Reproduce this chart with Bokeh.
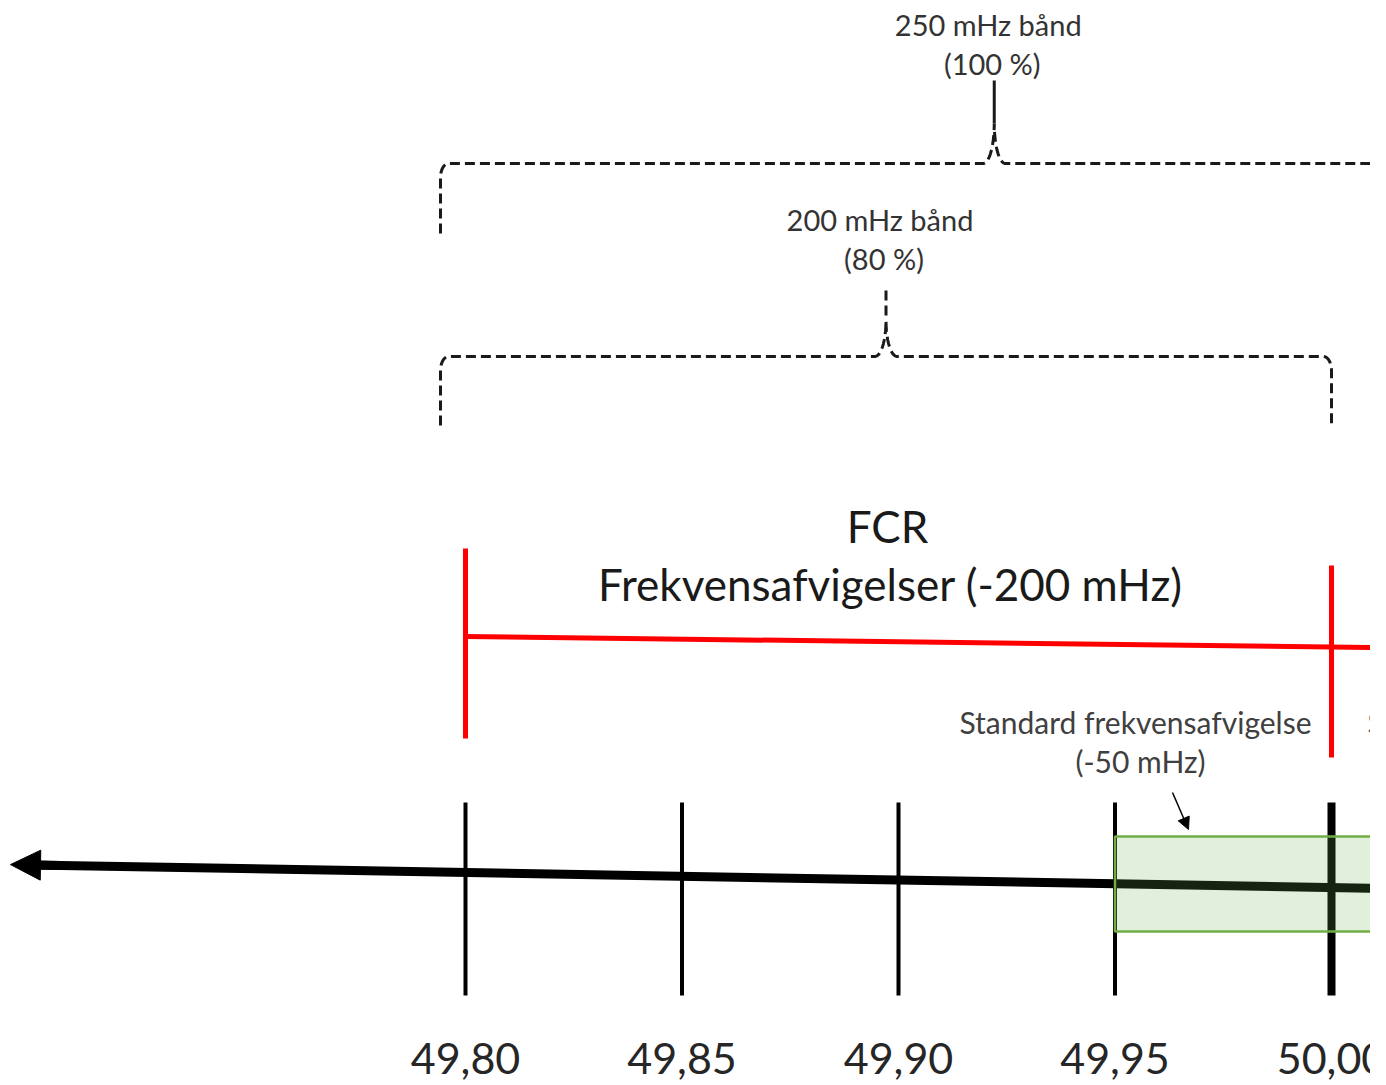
import numpy as np
from bokeh.plotting import figure
from bokeh.models import Range1d, Arrow, NormalHead, ColumnDataSource
from bokeh.core.properties import value
from bokeh.embed import file_html
from bokeh.resources import INLINE

# ---------------- data ----------------
tick_values = [49.80, 49.85, 49.90, 49.95, 50.00]
tick_labels = ["49,80", "49,85", "49,90", "49,95", "50,00"]
nominal_freq = 50.00
fcr_range = [49.80, 50.00]
fcr_title = "FCR"
fcr_label = "Frekvensafvigelser (-200 mHz)"
std_range = [49.95, 50.05]
std_label = ["Standard frekvensafvigelse", "(-50 mHz)"]
band_low = [49.80, 49.80]
band_high = [50.00, 50.05]
band_title = ["200 mHz bånd", "250 mHz bånd"]
band_share = ["(80 %)", "(100 %)"]

# ---------------- layout ----------------
W, H = 1370, 1085
PXHZ = 4330.0          # pixels per Hz
X0PX = 465.0           # pixel of 49.80


def fx(px):
    return 49.80 + (px - X0PX) / PXHZ


def dpx(n):
    return n / PXHZ


FONT = value("Lato")

p = figure(width=W, height=H, output_backend="svg", toolbar_location=None,
           x_range=Range1d(fx(0), fx(W)),
           y_range=Range1d(H, 0),
           x_axis_location=None, y_axis_location=None, min_border=0,
           tools="")
p.grid.visible = False
p.outline_line_color = None
p.background_fill_color = "white"
p.border_fill_color = "white"

# ---------- braces ----------
band_foot_y = [425, 233]
band_bar_y = [356, 163]
band_tip_y = [320, 123]
band_stem_top = [290, 80]
band_title_y = [219, 24]
band_share_y = [258, 63]
band_stem_dash = ["10 5", "solid"]


def brace(xl, xr, y_foot, y_bar, y_tip, rx=8, ry=14, pw=11):
    xt = 0.5 * (xl + xr)
    t = np.linspace(0, np.pi / 2, 12)
    xs, ys = [xl], [y_foot]
    xs += list(xl + dpx(rx) - dpx(rx) * np.cos(t)); ys += list(y_bar + ry - ry * np.sin(t))
    xs += list(xt - dpx(pw) + dpx(pw) * np.sin(t)); ys += list(y_tip + (y_bar - y_tip) * np.cos(t))
    xs += list(xt + dpx(pw) - dpx(pw) * np.sin(t[::-1])); ys += list(y_tip + (y_bar - y_tip) * np.cos(t[::-1]))
    xs += list(xr - dpx(rx) + dpx(rx) * np.sin(t)); ys += list(y_bar + ry - ry * np.cos(t))
    xs.append(xr); ys.append(y_foot)
    return xs, ys, xt


for i in range(len(band_low)):
    xl = band_low[i] - dpx(25)
    xr = band_high[i]
    xs, ys, xt = brace(xl, xr, band_foot_y[i], band_bar_y[i], band_tip_y[i])
    p.line(xs, ys, line_color="#1a1a1a", line_width=3, line_dash="10 5")
    p.line([xt, xt], [band_stem_top[i], band_tip_y[i]], line_color="#1a1a1a",
           line_width=3, line_dash=band_stem_dash[i])
    p.text(x=[xt - dpx(6)], y=[band_title_y[i]], text=[band_title[i]], text_font=FONT,
           text_font_size="29px", text_color="#333333", text_align="center",
           text_baseline="middle")
    p.text(x=[xt - dpx(2)], y=[band_share_y[i]], text=[band_share[i]], text_font=FONT,
           text_font_size="29px", text_color="#333333", text_align="center",
           text_baseline="middle")

# ---------- FCR red bracket ----------
red = "#ff0000"
p.line([fcr_range[0], fx(1400)], [636, 647.4], line_color=red, line_width=5)
p.segment(x0=[fcr_range[0], fcr_range[1]], y0=[548, 565],
          x1=[fcr_range[0], fcr_range[1]], y1=[738, 757], line_color=red, line_width=5)
p.text(x=[fx(887)], y=[525], text=[fcr_title], text_font=FONT, text_font_size="44px",
       text_color="#1a1a1a", text_align="center", text_baseline="middle")
p.text(x=[fx(890)], y=[583], text=[fcr_label], text_font=FONT, text_font_size="44px",
       text_color="#1a1a1a", text_align="center", text_baseline="middle")

# ---------- main axis ----------
def axis_y(f):
    return 872 + (f - 49.80) * 75.0

p.line([fx(30), fx(1400)], [axis_y(fx(30)), axis_y(fx(1400))], line_color="black", line_width=9)
p.add_layout(Arrow(end=NormalHead(size=30, fill_color="black", line_color="black", line_width=1),
                   x_start=fx(60), y_start=axis_y(fx(60)), x_end=fx(10), y_end=axis_y(fx(10)),
                   line_width=9, line_color="black"))

tick_w = [8 if v == nominal_freq else 4 for v in tick_values]
tsrc = ColumnDataSource(dict(x=tick_values, w=tick_w, lab=tick_labels,
                             y0=[802] * len(tick_values), y1=[995] * len(tick_values),
                             ly=[1058] * len(tick_values)))
p.segment(x0="x", y0="y0", x1="x", y1="y1", line_width="w", line_color="black", source=tsrc)
p.text(x="x", y="ly", text="lab", source=tsrc, text_font=FONT, text_font_size="43px",
       text_color="#262626", text_align="center", text_baseline="middle")

# ---------- standard deviation box ----------
p.quad(left=std_range[0], right=std_range[1], top=836, bottom=931,
       fill_color="#70ad47", fill_alpha=0.2, line_color="#70ad47", line_width=2.5)
p.add_layout(Arrow(end=NormalHead(size=12, fill_color="black", line_color="black", line_width=1),
                   x_start=fx(1172), y_start=792, x_end=fx(1188), y_end=829,
                   line_width=1.5, line_color="black"))
p.text(x=[fx(1135)], y=[721], text=[std_label[0]], text_font=FONT, text_font_size="30px",
       text_color="#404040", text_align="center", text_baseline="middle")
p.text(x=[fx(1140)], y=[760], text=[std_label[1]], text_font=FONT, text_font_size="30px",
       text_color="#404040", text_align="center", text_baseline="middle")
p.text(x=[fx(1367)], y=[721], text=[std_label[0]], text_font=FONT, text_font_size="30px",
       text_color="#404040", text_align="left", text_baseline="middle")

open("out.html", "w").write(file_html(p, INLINE))
